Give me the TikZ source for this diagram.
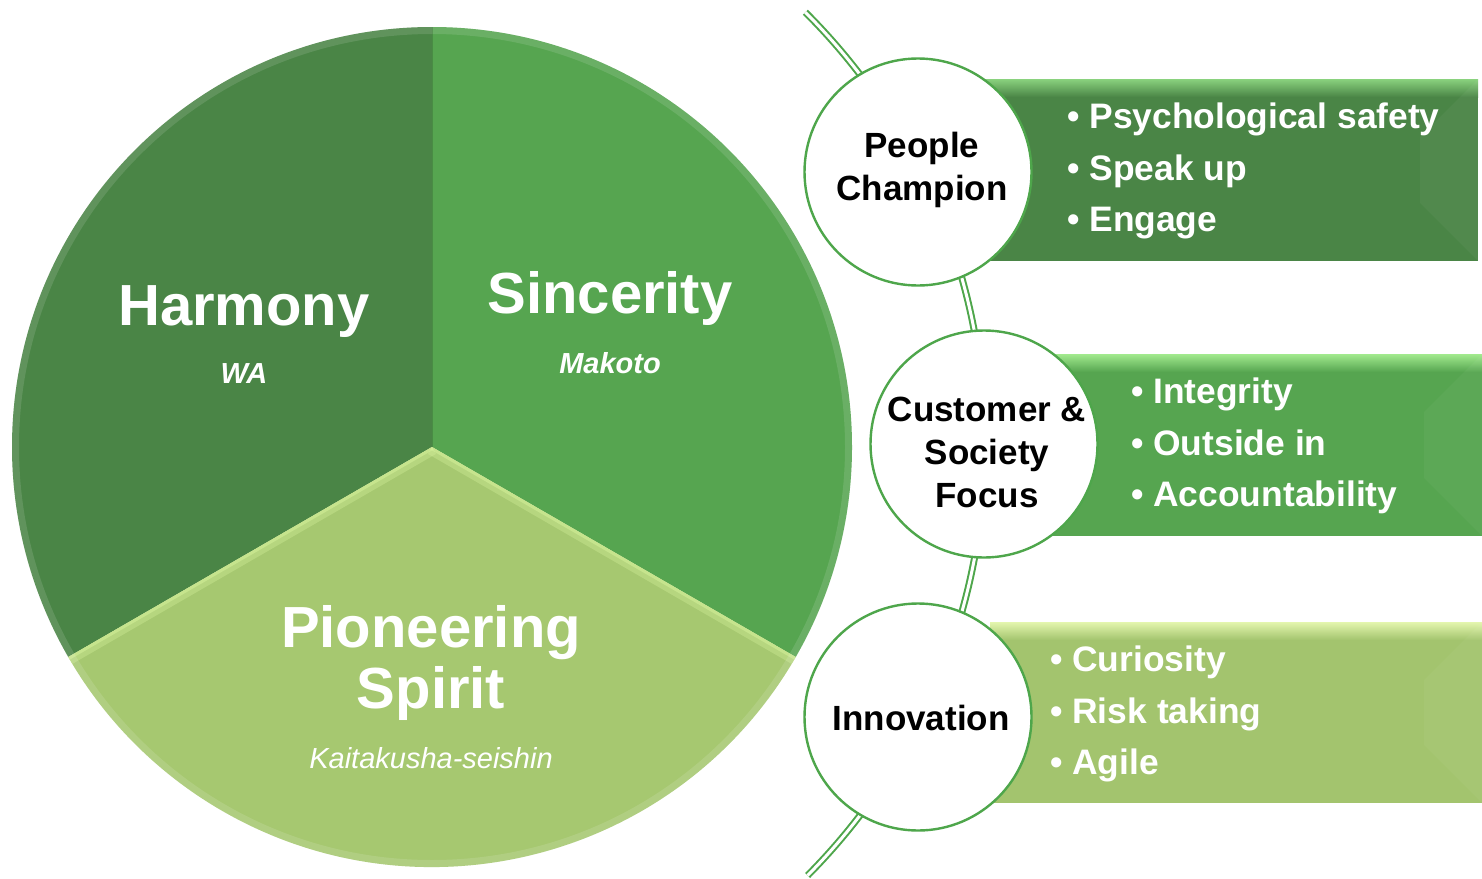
\documentclass[tikz,border=0pt]{standalone}
\usepackage{fontspec}
\setmainfont{Liberation Sans}
\definecolor{harmonyc}{HTML}{4A8546}
\definecolor{sincerityc}{HTML}{56A550}
\definecolor{pioneerc}{HTML}{A6C870}
\definecolor{pioneerhi}{HTML}{D6F29C}
\definecolor{ringgreen}{HTML}{4EA64B}
\definecolor{boxone}{HTML}{4A8546}
\definecolor{boxtwo}{HTML}{56A550}
\definecolor{boxthree}{HTML}{A3C46E}
\definecolor{hione}{HTML}{8AD27E}
\definecolor{hitwo}{HTML}{A2EA8E}
\definecolor{hithree}{HTML}{E4F6AE}
\begin{document}
\begin{tikzpicture}[x=1pt,y=-1pt,
  pietitle/.style={text=white, font=\bfseries\fontsize{58}{60}\selectfont, anchor=base, inner sep=0pt},
  piesub/.style={text=white, font=\bfseries\itshape\fontsize{29}{32}\selectfont, anchor=base, inner sep=0pt},
  valcircle/.style={circle, draw=ringgreen, line width=2.4pt, fill=white, minimum size=227pt, inner sep=0pt},
  circtext/.style={align=center, inner sep=0pt, font=\bfseries\fontsize{35}{43}\selectfont},
  listtext/.style={text=white, font=\bfseries\fontsize{35.4}{51.5}\selectfont, align=left, anchor=west, inner sep=0pt},
  valbox/.style={anchor=north west, inner sep=0pt, draw=none},
  arcline/.style={draw=ringgreen, line width=2pt, double=white, double distance=3pt}]
\useasboundingbox (0,0) rectangle (1482,878);
\fill[white] (0,0) rectangle (1482,878);

% ---- pie ----
\coordinate (pc) at (432,447);
\fill[harmonyc] (pc) -- ++(-90:420) arc[start angle=-90, end angle=-210, radius=420] -- cycle;
\fill[sincerityc] (pc) -- ++(-90:420) arc[start angle=-90, end angle=30, radius=420] -- cycle;
\fill[pioneerc] (pc) -- ++(30:420) arc[start angle=30, end angle=150, radius=420] -- cycle;
% bevel highlights of the light sector
\begin{scope}
  \clip (pc) -- ++(30:420) arc[start angle=30, end angle=150, radius=420] -- cycle;
  \draw[pioneerhi, line width=16pt, opacity=0.35] (pc) -- ++(30:430);
  \draw[pioneerhi, line width=16pt, opacity=0.35] (pc) -- ++(150:430);
  \draw[pioneerhi, line width=6pt, opacity=0.5] (pc) -- ++(30:430);
  \draw[pioneerhi, line width=6pt, opacity=0.5] (pc) -- ++(150:430);
\end{scope}
% soft rim
\begin{scope}
  \clip (pc) circle[radius=420];
  \draw[white, opacity=0.12, line width=10pt] (pc) circle[radius=418];
\end{scope}
\draw[black, opacity=0.15, line width=1pt] (pc) -- ++(-90:420);

\node[pietitle] (harmony) at (244,325) {Harmony};
\node[piesub] (wa) at (244,383) {WA};
\node[pietitle] (sincerity) at (610,313) {Sincerity};
\node[piesub] (makoto) at (610,373) {Makoto};
\node[pietitle] (pioneering) at (431,647) {Pioneering};
\node[pietitle] (spirit) at (431,708) {Spirit};
\node[text=white, font=\itshape\fontsize{29}{32}\selectfont, anchor=base, inner sep=0pt] (kaitaku) at (431,768) {Kaitakusha-seishin};

% ---- connecting arc ----
\coordinate (arctop) at (805.3,12.2);
\draw[arcline] (arctop) arc[start angle=-45.1, end angle=44.8, radius=611];

% ---- boxes ----
\node[valbox, fill=boxone, minimum width=493pt, minimum height=182pt] (box1) at (985,79) {};
\shade[top color=hione, bottom color=boxone] (985,79) rectangle (1478,97);
\fill[white, opacity=0.04] (1478,79) -- (1420,137) -- (1420,203) -- (1478,261) -- cycle;
\node[valbox, fill=boxtwo, minimum width=432pt, minimum height=182pt] (box2) at (1050,354) {};
\shade[top color=hitwo, bottom color=boxtwo] (1050,354) rectangle (1482,372);
\fill[white, opacity=0.04] (1482,354) -- (1424,412) -- (1424,478) -- (1482,536) -- cycle;
\node[valbox, fill=boxthree, minimum width=492pt, minimum height=181pt] (box3) at (990,622) {};
\shade[top color=hithree, bottom color=boxthree] (990,622) rectangle (1482,640);
\fill[white, opacity=0.04] (1482,622) -- (1424,680) -- (1424,745) -- (1482,803) -- cycle;

\node[listtext] (list1) at (1067,171) {• Psychological safety\\• Speak up\\• Engage};
\node[listtext] (list2) at (1131,446) {• Integrity\\• Outside in\\• Accountability};
\node[listtext] (list3) at (1050,714) {• Curiosity\\• Risk taking\\• Agile};

% ---- circles ----
\node[valcircle] (people) at (918,172) {};
\node[circtext] (peopletxt) at (922,170) {People\\Champion};
\node[valcircle] (customer) at (984,444) {};
\node[circtext] (customertxt) at (987,452) {Customer \&\\Society\\Focus};
\node[valcircle] (innovation) at (918,717) {};
\node[circtext] (innovationtxt) at (921,718) {Innovation};
\end{tikzpicture}
\end{document}
